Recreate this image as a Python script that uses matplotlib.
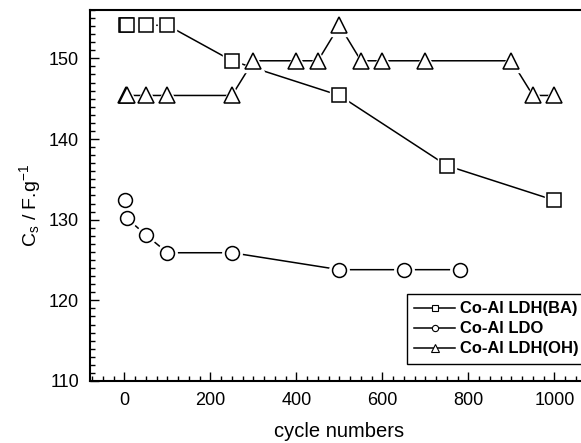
import matplotlib
matplotlib.use('Agg')
import matplotlib.pyplot as plt
from matplotlib.lines import Line2D
from matplotlib.ticker import MultipleLocator

plt.rcParams['font.family'] = ['Liberation Sans', 'DejaVu Sans']
plt.rcParams['mathtext.default'] = 'regular'

# specific capacitance vs. cycle number
ba_x = [3, 5, 50, 100, 250, 500, 750, 1000]
ba_y = [154.1, 154.1, 154.1, 154.1, 149.7, 145.4, 136.7, 132.4]

ldo_x = [2, 5, 50, 100, 250, 500, 650, 780]
ldo_y = [132.5, 130.2, 128.1, 125.9, 125.9, 123.8, 123.8, 123.8]

oh_x = [3, 5, 50, 100, 250, 300, 400, 450, 500, 550, 600, 700, 900, 950, 1000]
oh_y = [145.4, 145.4, 145.4, 145.4, 145.4, 149.7, 149.7, 149.7, 154.1,
        149.7, 149.7, 149.7, 149.7, 145.4, 145.4]

labels = ['Co-Al LDH(BA)', 'Co-Al LDO', 'Co-Al LDH(OH)']

fig = plt.figure(figsize=(5.81, 4.43), dpi=100)
ax = fig.add_axes([0.155, 0.14, 0.8585, 0.8375])

series = [(ba_x, ba_y, 's', 9.5), (ldo_x, ldo_y, 'o', 10), (oh_x, oh_y, '^', 12)]
handles = []
for (x, y, m, ms), lab in zip(series, labels):
    ax.plot(x, y, '-', color='k', lw=1.1, zorder=2)
    # white halo so the line stops short of each symbol
    ax.plot(x, y, ls='none', marker=m, ms=ms + 4, mfc='w', mec='w', zorder=3)
    ax.plot(x, y, ls='none', marker=m, ms=ms, mfc='w', mec='k', mew=1.1, zorder=4)
    handles.append(Line2D([], [], color='k', lw=1.1, marker=m, ms=ms * 0.45,
                          mfc='w', mec='k', mew=0.8, label=lab))

ax.set_xlim(-80, 1080)
ax.set_ylim(110, 156)
ax.set_xticks([0, 200, 400, 600, 800, 1000])
ax.set_yticks([110, 120, 130, 140, 150])
ax.xaxis.set_minor_locator(MultipleLocator(25))
ax.yaxis.set_minor_locator(MultipleLocator(1))
ax.tick_params(which='both', direction='in', top=False, right=False, width=1)
ax.tick_params(which='major', length=6.5, labelsize=13, pad=8)
ax.tick_params(which='minor', length=3.5)
for s in ax.spines.values():
    s.set_linewidth(1.5)

ax.set_xlabel('cycle numbers', fontsize=14.5, labelpad=9)
ax.set_ylabel('C$_s$ / F.g$^{-1}$', fontsize=14)
ax.yaxis.set_label_coords(-0.095, 0.474)

leg = ax.legend(handles=handles, loc='upper left', bbox_to_anchor=(0.6355, 0.2345),
                borderaxespad=0, prop={'weight': 'bold', 'size': 11.9},
                handlelength=2.45, handletextpad=0.3, labelspacing=0.3,
                borderpad=0.45, fancybox=False, framealpha=1, edgecolor='k')
leg.get_frame().set_linewidth(1)

fig.savefig('out.png', dpi=100)
